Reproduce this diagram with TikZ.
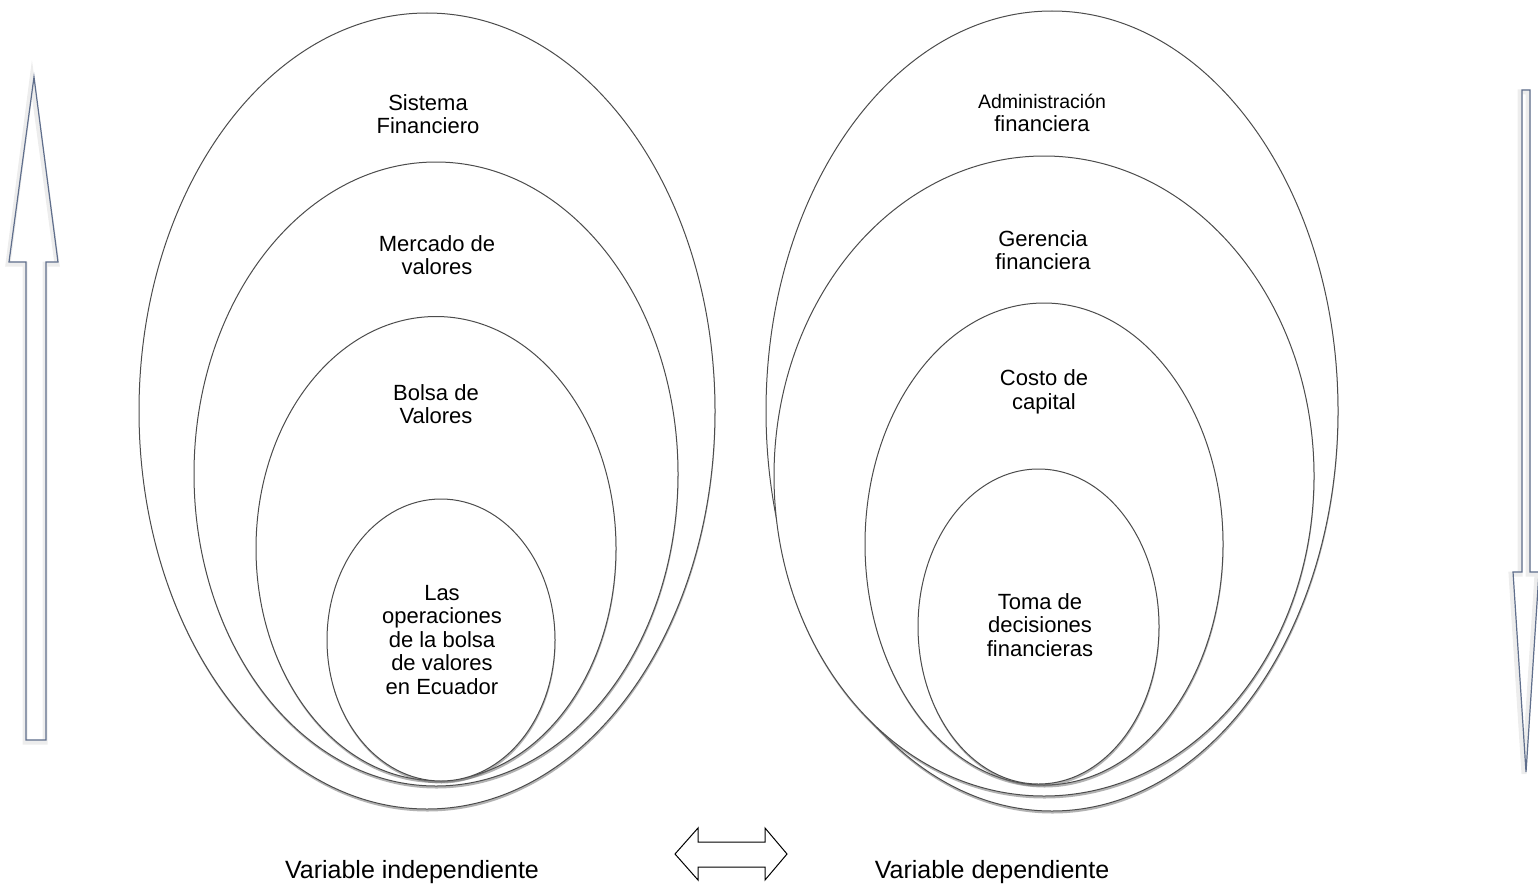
\documentclass[tikz,border=0pt]{standalone}
\usepackage{fontspec}
\setmainfont{Liberation Sans}
\usetikzlibrary{shadows}

\tikzset{
  ring/.style={draw=black!70, line width=1pt, fill=white,
    drop shadow={shadow xshift=0.5pt, shadow yshift=-2.5pt, opacity=0.5, fill=black!60}},
  lbl/.style={align=center, font=\fontsize{22}{23.5}\selectfont, inner sep=0pt},
  varlbl/.style={font=\fontsize{25}{27}\selectfont, inner sep=0pt},
  halo/.style={draw=black!7, line width=5pt, line join=miter},
  edge/.style={draw={rgb,255:red,95;green,110;blue,140}, line width=1.2pt, line join=miter},
  twoway/.style={draw=black, line width=1pt, fill=white, line join=miter}
}

\begin{document}
\begin{tikzpicture}[x=1pt,y=-1pt]
\useasboundingbox (0,0) rectangle (1538,888);

% left group
\path[ring] (427,411) ellipse [x radius=288pt, y radius=398pt];
\path[ring] (436,474) ellipse [x radius=242pt, y radius=312pt];
\path[ring] (436,548.5) ellipse [x radius=180pt, y radius=232pt];
\path[ring] (441,640) ellipse [x radius=114pt, y radius=141pt];

\node[lbl] (sist) at (428,114) {Sistema\\Financiero};
\node[lbl] (merc) at (437,255) {Mercado de\\valores};
\node[lbl] (bols) at (436,404) {Bolsa de\\Valores};
\node[lbl] (oper) at (442,640) {Las\\operaciones\\de la bolsa\\de valores\\en Ecuador};

% right group
\path[ring] (1052,411) ellipse [x radius=286pt, y radius=400pt];
\path[ring] (1044,476) ellipse [x radius=270pt, y radius=320pt];
\path[ring] (1044,544) ellipse [x radius=179pt, y radius=241pt];
\path[ring] (1038.5,626.5) ellipse [x radius=120.5pt, y radius=157.5pt];

\node[lbl] (admi) at (1042,113) {{\fontsize{19.5}{23.5}\selectfont Administración}\\financiera};
\node[lbl] (gere) at (1043,250) {Gerencia\\financiera};
\node[lbl] (cost) at (1044,392) {Costo de\\capital};
\node[lbl] (toma) at (1040,625) {Toma de\\decisiones\\financieras};

% up arrow
\draw[halo] (32,79)--(57,264)--(45,264)--(45,742)--(25,742)--(25,264)--(8,264)--cycle;
\draw[edge] (34,77)--(58,262)--(46,262)--(46,740)--(26,740)--(26,262)--(9,262)--cycle;

% down arrow
\draw[halo] (1520,92)--(1528,92)--(1528,574)--(1537,574)--(1524,774)--(1511,574)--(1520,574)--cycle;
\draw[edge] (1522,90)--(1530,90)--(1530,572)--(1539,572)--(1526,772)--(1513,572)--(1522,572)--cycle;

% bottom
\draw[twoway] (675,854)--(698,828)--(698,842)--(765,842)--(765,828)--(787,854)
  --(765,880)--(765,867)--(698,867)--(698,880)--cycle;
\node[varlbl] (vind) at (412,872) {Variable independiente};
\node[varlbl] (vdep) at (992,872) {Variable dependiente};

\end{tikzpicture}
\end{document}
